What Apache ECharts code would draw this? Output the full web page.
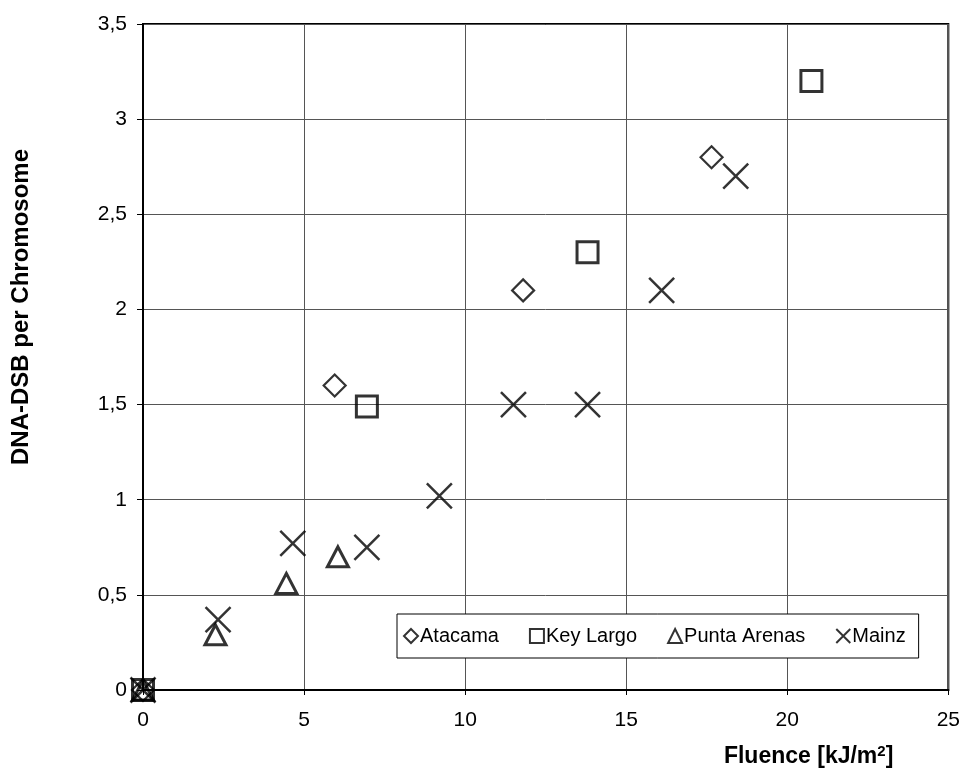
<!DOCTYPE html>
<html>
<head>
<meta charset="utf-8">
<script src="https://cdn.jsdelivr.net/npm/echarts@6/dist/echarts.min.js"></script>
<style>html,body{margin:0;padding:0;background:#fff}#c{width:963px;height:779px}</style>
</head>
<body>
<div id="c"></div>
<script>
var seriesNames = ['Atacama', 'Key Largo', 'Punta Arenas', 'Mainz'];
var atacama = [[0, 0], [5.95, 1.6], [11.8, 2.1], [17.65, 2.8]];
var keyLargo = [[0, 0], [6.95, 1.49], [13.8, 2.3], [20.75, 3.2]];
var puntaArenas = [[0, 0], [2.25, 0.29], [4.45, 0.56], [6.05, 0.7]];
var mainz = [[0, 0], [2.33, 0.37], [4.65, 0.77], [6.95, 0.75], [9.2, 1.02], [11.5, 1.5], [13.8, 1.5], [16.1, 2.1], [18.4, 2.7]];
var xTicks = [0, 5, 10, 15, 20, 25];
var yTicks = [0, 0.5, 1, 1.5, 2, 2.5, 3, 3.5];

var FONT = 'Liberation Sans, Arial, sans-serif';
var crossPath = 'path://M0,0L10,10M10,0L0,10';

function mk(name, data, symbol, size, bw) {
  return {
    name: name, type: 'scatter', data: data, symbol: symbol, symbolSize: size,
    itemStyle: { color: 'rgba(0,0,0,0)', borderColor: '#000', borderWidth: bw },
    emphasis: { disabled: true }, z: 5
  };
}

var chart = echarts.init(document.getElementById('c'), null, { renderer: 'canvas' });
chart.setOption({
  animation: false,
  backgroundColor: '#fff',
  textStyle: { fontFamily: FONT },
  grid: { left: 143, right: 14, top: 24, bottom: 89, show: true, borderColor: '#000', borderWidth: 2, containLabel: false },
  legend: {
    data: seriesNames,
    left: 397, top: 614, width: 560,
    padding: [12, 13, 12, 6],
    itemGap: 30, itemWidth: 14, itemHeight: 14,
    backgroundColor: '#fff', borderColor: '#000', borderWidth: 1,
    textStyle: { fontFamily: FONT, fontSize: 20, color: '#000', padding: [0, 0, 0, -3] },
    selectedMode: false
  },
  xAxis: {
    type: 'value', min: 0, max: 25, interval: 5,
    axisLine: { show: true, onZero: false, lineStyle: { color: '#000', width: 2 } },
    axisTick: { show: true, inside: false, length: 5, lineStyle: { color: '#000' } },
    axisLabel: { margin: 20, fontSize: 21, color: '#000', fontFamily: FONT,
      formatter: function (v) { return xTicks.indexOf(v) >= 0 ? String(v) : ''; } },
    splitLine: { show: true, lineStyle: { color: '#555', width: 1 } },
    name: 'Fluence [kJ/m{sup|2}]',
    nameLocation: 'end', nameGap: -55,
    nameTextStyle: { fontFamily: FONT, fontSize: 23, fontWeight: 'bold', color: '#000', align: 'right', verticalAlign: 'top', padding: [54, 0, 0, 0],
      rich: { sup: { fontSize: 15, fontWeight: 'bold', fontFamily: FONT, color: '#000', padding: [0, 0, 11, 0] } } }
  },
  yAxis: {
    type: 'value', min: 0, max: 3.5, interval: 0.5,
    axisLine: { show: true, onZero: false, lineStyle: { color: '#000', width: 2 } },
    axisTick: { show: true, inside: false, length: 6, lineStyle: { color: '#000' } },
    axisLabel: { margin: 16, fontSize: 21, color: '#000', fontFamily: FONT,
      formatter: function (v) { return yTicks.indexOf(v) >= 0 ? String(v).replace('.', ',') : ''; } },
    splitLine: { show: true, lineStyle: { color: '#555', width: 1 } },
    name: 'DNA-DSB per Chromosome',
    nameLocation: 'middle', nameGap: 110,
    nameTextStyle: { fontFamily: FONT, fontSize: 24, fontWeight: 'bold', color: '#000', padding: [0, 0, 0, 100] }
  },
  series: [
    mk(seriesNames[0], atacama, 'diamond', [22, 22], 2.2),
    mk(seriesNames[1], keyLargo, 'rect', [21, 21], 3),
    mk(seriesNames[2], puntaArenas, 'triangle', [21, 20], 3),
    mk(seriesNames[3], mainz, crossPath, [25, 25], 2.5)
  ]
});
</script>
</body>
</html>
